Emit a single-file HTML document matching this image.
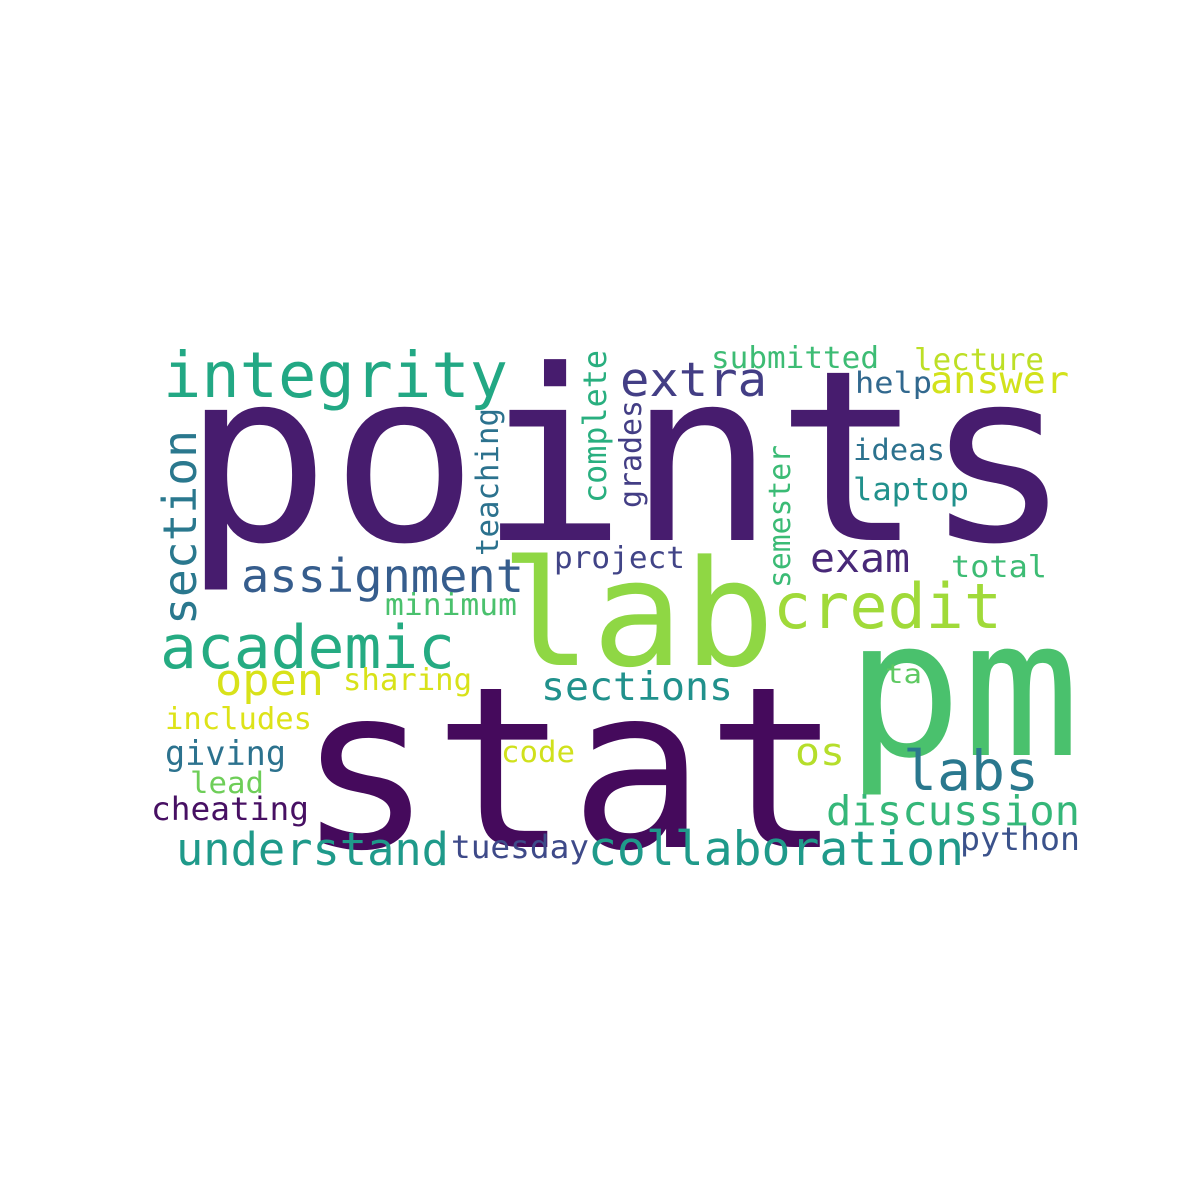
<!DOCTYPE html>
<html>
<head>
<meta charset="utf-8">
<style>
html,body{margin:0;padding:0;background:#fff;}
svg{display:block;}
text{font-family:"DejaVu Sans Mono","Liberation Mono",monospace;}
</style>
</head>
<body>
<svg id="cloud" width="1200" height="1200" viewBox="0 0 1200 1200" xmlns="http://www.w3.org/2000/svg">
<rect width="1200" height="1200" fill="#ffffff"/>
</svg>
<script>
const words = ["points","stat","lab","pm","integrity","section","academic","assignment","extra","credit","open","sections","giving","labs","discussion","understand","collaboration","tuesday","python","cheating","lead","includes","code","os","ta","sharing","minimum","project","exam","total","laptop","ideas","help","answer","submitted","lecture","teaching","complete","grades","semester"];
const sizes = [238,225,147,190,63,46,60,46,47,62,44,39,34,55,41,45,47,32,32,32,29,30,29,38,27,30,30,30,40,30,31,29,29,37,30,30,31,32,30,30];
const colors = ["#471c6e","#450a5c","#8fd744","#4ac16d","#22a884","#2a788e","#25ab82","#365d8d","#433e85","#a0da39","#d8e219","#21918c","#2c728e","#2a788e","#35b779","#1f9a8a","#1f9a8a","#3e4a89","#3b528b","#471063","#6ece58","#dde318","#d0e11c","#b5de2b","#5ec962","#d8e219","#4ac16d","#414487","#482878","#3dbc74","#21918c","#2c728e","#31688e","#d2e21b","#3dbc74","#bddf26","#2c728e","#29af7f","#433e85","#3bbb75"];
const layoutX = [182,297,500,845,163,196,160,241,620,773,215,541,165,903,826,176,588,451,960,151,190,165,501,795,885,343,385,554,810,951,853,853,855,930,711,914,498,606,641,790];
const layoutY = [540,847,665,755,397,625,668,592,396,628,695,700,765,790,825,865,865,858,850,820,793,729,762,765,683,690,615,568,572,577,500,460,393,393,368,370,556,503,508,588];
const layoutW = [890,545,275,235,345,195,295,283,147,229,109,192,121,136,254,273,376,138,120,158,74,147,74,50,37,129,132,131,100,96,116,92,77,139,168,130,148,153,108,143];
const vertical = [0,0,0,0,0,1,0,0,0,0,0,0,0,0,0,0,0,0,0,0,0,0,0,0,0,0,0,0,0,0,0,0,0,0,0,0,1,1,1,1];

const svg = document.getElementById('cloud');
const NS = 'http://www.w3.org/2000/svg';
words.forEach((w, i) => {
  const t = document.createElementNS(NS, 'text');
  
  
  t.setAttribute('font-size', sizes[i]);
  t.setAttribute('fill', colors[i]);
  t.setAttribute('textLength', layoutW[i]);
  t.setAttribute('lengthAdjust', 'spacingAndGlyphs');
  if (vertical[i]) {
    t.setAttribute('x', 0);
    t.setAttribute('y', 0);
    t.setAttribute('transform', 'translate(' + layoutX[i] + ',' + layoutY[i] + ') rotate(-90)');
  } else {
    t.setAttribute('x', layoutX[i]);
    t.setAttribute('y', layoutY[i]);
  }
  t.textContent = w;
  svg.appendChild(t);
});
</script>
</body>
</html>
